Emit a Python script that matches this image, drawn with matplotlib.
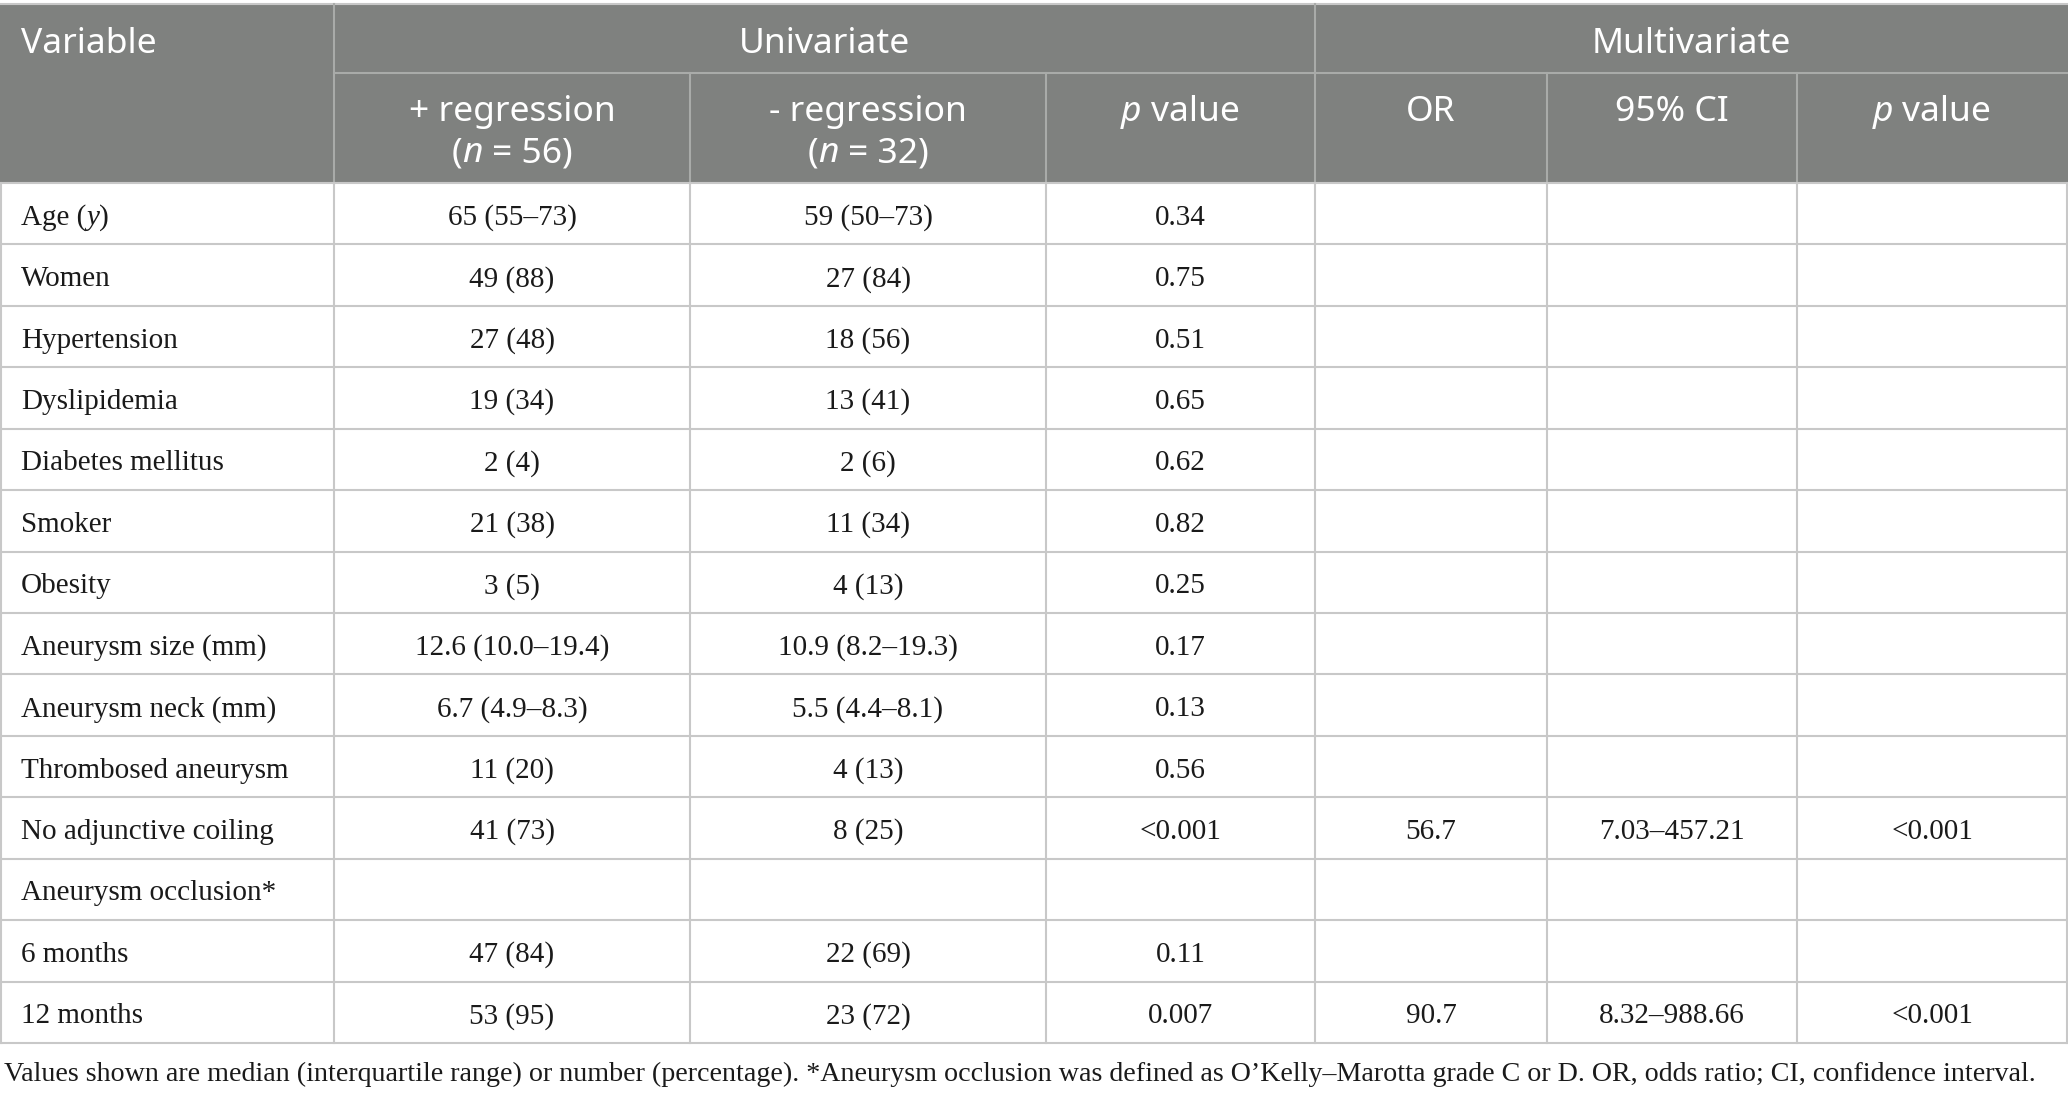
import matplotlib
matplotlib.use("Agg")
import matplotlib.pyplot as plt
from matplotlib.patches import Rectangle

####TABLE CONTENT####
variables = ['Age (y)', 'Women', 'Hypertension', 'Dyslipidemia', 'Diabetes mellitus',
             'Smoker', 'Obesity', 'Aneurysm size (mm)', 'Aneurysm neck (mm)',
             'Thrombosed aneurysm', 'No adjunctive coiling', 'Aneurysm occlusion*',
             '6 months', '12 months']
pos_regression = ['65 (55–73)', '49 (88)', '27 (48)', '19 (34)', '2 (4)', '21 (38)', '3 (5)',
                  '12.6 (10.0–19.4)', '6.7 (4.9–8.3)', '11 (20)', '41 (73)', '', '47 (84)', '53 (95)']
neg_regression = ['59 (50–73)', '27 (84)', '18 (56)', '13 (41)', '2 (6)', '11 (34)', '4 (13)',
                  '10.9 (8.2–19.3)', '5.5 (4.4–8.1)', '4 (13)', '8 (25)', '', '22 (69)', '23 (72)']
uni_p = ['0.34', '0.75', '0.51', '0.65', '0.62', '0.82', '0.25', '0.17', '0.13', '0.56',
         '<0.001', '', '0.11', '0.007']
odds_ratio = ['', '', '', '', '', '', '', '', '', '', '56.7', '', '', '90.7']
ci95 = ['', '', '', '', '', '', '', '', '', '', '7.03–457.21', '', '', '8.32–988.66']
multi_p = ['', '', '', '', '', '', '', '', '', '', '<0.001', '', '', '<0.001']
footnote = ('Values shown are median (interquartile range) or number (percentage). '
            '*Aneurysm occlusion was defined as O’Kelly–Marotta grade C or D. '
            'OR, odds ratio; CI, confidence interval.')

####LAYOUT####
W, H = 2068, 1097
col_edges = [0, 334, 690, 1046, 1315, 1547, 1797, 2067]
top, mid, head_bottom = 4, 73, 183
row_h = (1043 - head_bottom) / len(variables)
header_bg = '#7f817f'
header_line = '#a9aba9'
grid_line = '#c8c8c8'
sans = 'Noto Sans'
serif = 'Liberation Serif'
body_size = 21
head_size = 25.5

fig = plt.figure(figsize=(W / 100, H / 100), dpi=100)
ax = fig.add_axes([0, 0, 1, 1])
ax.set_xlim(0, W)
ax.set_ylim(H, 0)
ax.axis('off')
renderer = fig.canvas.get_renderer()


def text_width(s, **kw):
    t = ax.text(0, 0, s, **kw)
    w = t.get_window_extent(renderer).width
    t.remove()
    return w


def runs(x, y, parts, ha='center', **kw):
    # parts: list of (string, style) drawn side by side
    space = text_width('x x', **kw) - text_width('xx', **kw)
    widths = []
    for s, st in parts:
        lead = len(s) - len(s.lstrip(' '))
        trail = len(s) - len(s.rstrip(' '))
        core = s.strip(' ')
        w = text_width(core, style=st, **kw) if core else 0
        widths.append((lead * space, w, trail * space, core))
    total = sum(a + b + c for a, b, c, _ in widths)
    cx = x - total / 2 if ha == 'center' else x
    for (a, b, c, core), (_, st) in zip(widths, parts):
        cx += a
        if core:
            ax.text(cx, y, core, style=st, ha='left', va='center', **kw)
        cx += b + c


####HEADER####
ax.add_patch(Rectangle((0, top), W, head_bottom - top, color=header_bg, lw=0))
hk = dict(family=sans, size=head_size, color='white')
y1, y2a, y2b = 44, 112, 153
ax.text(21, y1, 'Variable', ha='left', va='center', **hk)
ax.text((col_edges[1] + col_edges[4]) / 2, y1, 'Univariate', ha='center', va='center', **hk)
ax.text((col_edges[4] + col_edges[7]) / 2, y1, 'Multivariate', ha='center', va='center', **hk)
centers = [(col_edges[i] + col_edges[i + 1]) / 2 for i in range(7)]
ax.text(centers[1], y2a, '+ regression', ha='center', va='center', **hk)
runs(centers[1], y2b, [('(', 'normal'), ('n', 'italic'), (' = 56)', 'normal')], **hk)
ax.text(centers[2], y2a, '- regression', ha='center', va='center', **hk)
runs(centers[2], y2b, [('(', 'normal'), ('n', 'italic'), (' = 32)', 'normal')], **hk)
runs(centers[3], y2a, [('p', 'italic'), (' value', 'normal')], **hk)
ax.text(centers[4], y2a, 'OR', ha='center', va='center', **hk)
ax.text(centers[5], y2a, '95% CI', ha='center', va='center', **hk)
runs(centers[6], y2a, [('p', 'italic'), (' value', 'normal')], **hk)

ax.plot([0, W], [top, top], color=grid_line, lw=1.5)
ax.plot([col_edges[1], W], [mid, mid], color=header_line, lw=1.5)
for x in [col_edges[1], col_edges[4]]:
    ax.plot([x, x], [top, head_bottom], color=header_line, lw=1.5)
for x in [col_edges[2], col_edges[3], col_edges[5], col_edges[6]]:
    ax.plot([x, x], [mid, head_bottom], color=header_line, lw=1.5)

####BODY####
bk = dict(family=serif, size=body_size, color='#1a1a1a')
columns = [pos_regression, neg_regression, uni_p, odds_ratio, ci95, multi_p]
for i, var in enumerate(variables):
    yc = head_bottom + (i + 0.5) * row_h + 4
    if var == 'Age (y)':
        runs(21, yc, [('Age (', 'normal'), ('y', 'italic'), (')', 'normal')], ha='left', **bk)
    else:
        ax.text(21, yc, var, ha='left', va='center', **bk)
    for j, col in enumerate(columns):
        if col[i]:
            ax.text(centers[j + 1], yc, col[i], ha='center', va='center', **bk)

bottom = head_bottom + len(variables) * row_h
for i in range(len(variables) + 1):
    y = head_bottom + i * row_h
    ax.plot([0, W], [y, y], color=grid_line, lw=1.5)
for x in col_edges:
    ax.plot([x + (1 if x == 0 else 0)] * 2, [head_bottom, bottom], color=grid_line, lw=1.5)

####FOOTNOTE####
ax.text(4, 1074, footnote, ha='left', va='center', **dict(bk, size=20.2))

fig.savefig('out.png', dpi=100)
